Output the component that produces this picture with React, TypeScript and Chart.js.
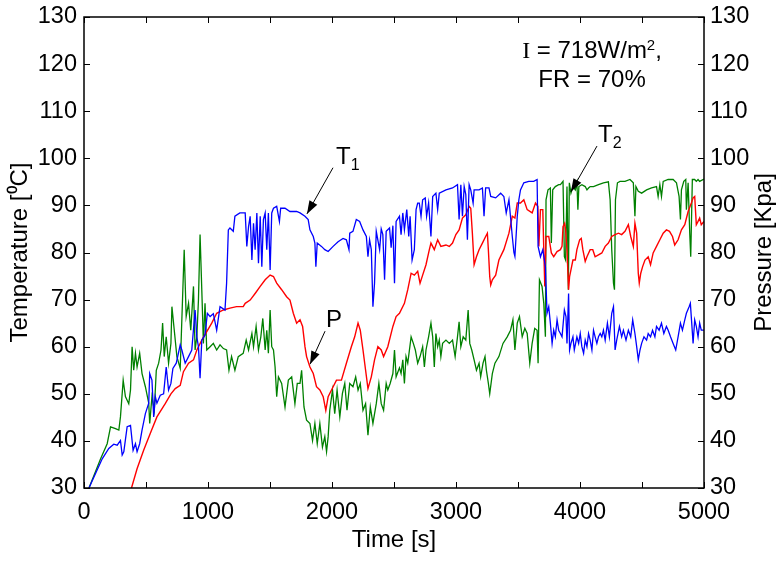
import React, { useEffect, useRef } from "react";
import { Chart, registerables } from "chart.js";

Chart.register(...registerables);

// ---------- data (time [s], value) ----------
const t1Series: [number, number][] = [
  [40,30.0],[147,36.2],[200,38.4],[240,39.3],[268,39.1],[294,40.1],[308,37.0],[321,37.7],[348,43.0],[375,43.3],
  [396,38.0],[415,39.4],[428,37.7],[449,39.4],[468,42.3],[495,45.8],[522,48.0],[530,54.3],[548,52.9],[562,45.1],
  [575,49.4],[588,48.0],[615,49.7],[642,50.0],[663,55.7],[682,50.8],[701,52.2],[717,55.4],[744,56.5],[776,60.4],
  [789,59.3],[816,56.5],[843,57.9],[869,59.3],[896,67.8],[910,62.1],[923,60.0],[936,53.3],[950,61.4],[976,62.5],
  [995,67.1],[1017,66.4],[1043,67.0],[1070,63.5],[1097,68.5],[1137,67.8],[1150,73.5],[1164,84.8],[1177,85.2],[1204,84.5],
  [1217,87.7],[1257,88.4],[1300,88.4],[1313,81.3],[1327,85.5],[1340,87.7],[1354,78.4],[1367,86.2],[1380,80.6],[1394,88.4],
  [1407,77.7],[1421,87.7],[1434,77.0],[1447,87.0],[1461,88.4],[1474,80.6],[1487,88.4],[1501,76.3],[1514,88.4],[1528,89.4],
  [1554,89.8],[1576,86.6],[1586,89.4],[1621,89.4],[1661,88.7],[1715,88.7],[1742,88.4],[1782,87.7],[1808,87.0],[1822,84.8],
  [1849,83.4],[1862,82.0],[1870,77.0],[1881,82.0],[1915,81.3],[1942,80.6],[1969,80.2],[2009,81.3],[2049,82.3],[2089,83.0],
  [2116,82.7],[2137,80.6],[2143,84.1],[2169,84.5],[2196,87.0],[2223,86.6],[2250,84.8],[2277,83.4],[2290,79.1],[2303,82.7],
  [2317,80.6],[2330,68.5],[2343,73.5],[2357,84.5],[2384,80.6],[2397,85.0],[2410,83.8],[2424,74.2],[2437,84.5],[2464,85.2],
  [2477,81.0],[2491,85.7],[2504,73.5],[2517,86.6],[2544,87.7],[2557,83.8],[2571,88.4],[2584,84.8],[2603,89.1],[2619,83.4],
  [2630,87.7],[2646,78.4],[2664,80.6],[2678,89.1],[2691,90.5],[2704,90.5],[2718,87.7],[2731,91.2],[2752,91.6],[2763,87.7],
  [2779,90.5],[2798,83.4],[2812,91.9],[2838,92.6],[2852,89.1],[2865,92.6],[2919,93.3],[2972,93.7],[3012,94.4],[3025,87.0],
  [3039,94.4],[3052,87.7],[3066,94.0],[3079,92.3],[3092,82.7],[3106,94.4],[3119,93.3],[3138,90.5],[3146,93.3],[3186,93.3],
  [3213,93.7],[3226,87.7],[3239,93.7],[3266,93.7],[3280,91.9],[3320,91.6],[3360,92.6],[3386,91.9],[3405,88.4],[3427,91.2],
  [3454,83.4],[3467,80.0],[3475,79.2],[3494,87.7],[3507,91.2],[3520,93.3],[3547,94.8],[3587,95.1],[3627,95.1],[3654,95.5],
  [3662,81.3],[3681,79.1],[3700,80.6],[3721,77.0],[3734,67.1],[3748,68.5],[3761,65.0],[3775,60.7],[3788,63.5],[3801,62.1],
  [3815,65.7],[3828,63.5],[3842,62.8],[3855,62.1],[3874,67.8],[3887,66.4],[3895,60.7],[3908,71.3],[3916,59.3],[3927,60.7],
  [3943,62.1],[3954,59.3],[3975,62.1],[3989,60.7],[4002,62.8],[4015,60.0],[4029,58.6],[4042,61.4],[4056,60.0],[4069,62.8],
  [4082,61.4],[4096,59.3],[4109,63.5],[4122,62.1],[4136,60.7],[4149,62.1],[4163,62.8],[4176,62.1],[4189,63.5],[4203,61.4],
  [4221,65.0],[4237,62.1],[4256,67.1],[4270,68.5],[4283,59.3],[4296,61.4],[4318,64.3],[4336,62.1],[4350,63.5],[4371,61.4],
  [4390,63.5],[4409,62.1],[4425,65.7],[4443,62.8],[4457,60.0],[4470,57.2],[4484,59.3],[4497,60.7],[4516,62.1],[4537,61.4],
  [4550,62.8],[4569,62.1],[4585,63.5],[4604,62.1],[4617,64.3],[4638,63.5],[4657,65.0],[4676,62.8],[4697,64.3],[4711,63.5],
  [4730,62.1],[4751,60.7],[4772,59.3],[4791,62.1],[4810,65.0],[4826,63.5],[4845,65.7],[4858,67.1],[4880,68.5],[4890,69.2],
  [4901,65.0],[4912,60.7],[4925,65.7],[4938,64.3],[4952,62.1],[4965,65.0],[4978,63.5],[5000,63.5],
];

const t2Series: [number, number][] = [
  [40,30.0],[134,36.2],[187,39.4],[214,43.0],[254,42.6],[281,42.3],[294,45.1],[316,52.9],[334,49.4],[361,47.9],
  [375,50.8],[388,60.0],[401,55.0],[415,58.6],[428,55.7],[449,58.6],[468,54.3],[495,51.5],[522,48.0],[530,43.7],
  [548,49.4],[567,46.5],[583,55.0],[602,56.5],[621,59.3],[634,65.0],[647,57.9],[663,62.1],[682,56.5],[701,60.7],
  [709,68.5],[728,63.5],[749,57.9],[776,55.4],[797,72.0],[808,80.6],[824,66.4],[843,69.2],[861,63.5],[883,72.8],
  [896,59.3],[910,62.1],[923,69.9],[936,83.8],[950,72.0],[963,60.7],[976,69.2],[990,59.3],[1017,60.0],[1043,60.7],
  [1070,59.3],[1097,60.4],[1124,59.6],[1150,59.3],[1169,55.0],[1190,57.9],[1217,55.0],[1244,57.9],[1284,58.6],[1308,61.4],
  [1327,59.3],[1354,62.8],[1367,60.0],[1388,64.3],[1407,59.3],[1426,62.1],[1442,66.0],[1461,59.3],[1474,63.5],[1487,58.6],
  [1501,67.8],[1514,60.0],[1528,59.3],[1541,55.7],[1554,49.4],[1568,53.6],[1594,52.2],[1621,47.2],[1648,52.9],[1675,53.6],
  [1701,47.9],[1720,52.2],[1742,52.2],[1755,55.0],[1774,47.2],[1795,44.4],[1822,43.7],[1843,40.1],[1862,43.7],[1881,39.4],
  [1902,43.7],[1923,38.7],[1942,40.9],[1956,37.7],[1969,40.9],[1982,46.5],[2004,50.8],[2022,45.8],[2041,50.8],[2063,45.1],
  [2084,50.1],[2103,52.2],[2121,46.5],[2143,52.2],[2169,51.5],[2191,53.6],[2210,50.8],[2228,52.2],[2250,46.5],[2271,47.9],
  [2290,41.2],[2309,47.2],[2330,43.7],[2357,47.9],[2378,52.2],[2397,47.9],[2416,46.5],[2437,52.2],[2450,50.8],[2469,52.2],
  [2491,54.3],[2504,59.3],[2517,53.6],[2544,55.5],[2557,54.3],[2571,57.2],[2584,52.2],[2597,57.9],[2611,56.5],[2638,62.1],
  [2656,60.7],[2672,59.3],[2691,56.5],[2710,57.9],[2731,60.0],[2745,55.7],[2758,59.3],[2779,62.1],[2798,65.0],[2812,62.1],
  [2825,55.7],[2838,62.8],[2852,60.0],[2865,61.4],[2878,57.9],[2892,60.7],[2919,61.4],[2946,60.7],[2972,61.4],[2993,57.9],
  [3012,62.1],[3025,65.3],[3039,60.0],[3058,62.1],[3079,61.4],[3098,67.8],[3111,60.7],[3127,59.3],[3146,57.2],[3165,55.0],
  [3186,56.5],[3199,53.6],[3218,56.5],[3234,57.9],[3245,55.0],[3261,52.2],[3272,50.0],[3293,54.3],[3314,56.5],[3346,57.9],
  [3379,60.7],[3413,62.1],[3440,63.5],[3459,65.7],[3475,59.3],[3494,65.0],[3512,66.4],[3534,62.1],[3555,63.9],[3574,62.8],
  [3595,56.5],[3614,60.7],[3635,63.9],[3654,63.5],[3662,56.5],[3673,74.2],[3694,72.8],[3708,69.2],[3721,62.1],[3726,91.2],
  [3742,93.3],[3761,93.7],[3769,82.0],[3780,93.3],[3801,94.0],[3828,94.4],[3842,94.4],[3863,95.1],[3874,79.1],[3884,78.4],
  [3895,94.0],[3906,72.1],[3914,94.8],[3927,92.6],[3943,94.0],[3962,93.3],[3975,94.8],[3983,89.1],[3991,94.0],[4015,94.4],
  [4042,94.0],[4056,93.3],[4069,93.7],[4082,94.0],[4109,94.0],[4149,94.4],[4189,94.8],[4229,95.0],[4243,91.2],[4256,80.6],
  [4270,73.5],[4278,72.1],[4286,91.2],[4302,94.8],[4323,95.1],[4363,95.1],[4403,95.5],[4430,94.8],[4443,87.7],[4451,94.0],
  [4470,93.0],[4497,92.6],[4537,93.3],[4577,93.7],[4617,94.0],[4630,91.9],[4644,94.4],[4657,91.9],[4671,95.1],[4711,95.5],
  [4751,95.5],[4778,94.8],[4799,91.9],[4810,87.0],[4818,93.3],[4837,95.1],[4853,95.5],[4858,89.1],[4872,94.8],[4885,84.1],
  [4893,79.1],[4906,95.5],[4925,95.5],[4938,95.1],[4952,95.5],[4965,95.1],[5000,95.6],
];

const pSeries: [number, number][] = [
  [383,30.0],[428,34.1],[481,38.0],[535,41.6],[588,45.1],[655,47.9],[701,50.0],[736,51.1],[776,51.8],[802,54.7],
  [843,56.5],[883,57.2],[910,59.3],[950,61.4],[990,63.2],[1030,65.0],[1070,67.1],[1124,67.8],[1177,68.2],[1230,68.5],
  [1284,68.5],[1300,69.2],[1340,69.9],[1380,71.3],[1421,72.8],[1461,74.2],[1501,75.2],[1528,74.9],[1554,73.5],[1594,72.1],
  [1634,70.6],[1661,69.9],[1688,67.1],[1715,65.0],[1742,65.7],[1763,64.3],[1782,60.0],[1795,57.9],[1822,55.7],[1849,54.3],
  [1875,51.5],[1902,50.8],[1929,49.4],[1950,46.5],[1969,49.4],[1996,50.8],[2036,52.9],[2076,52.9],[2116,56.5],[2156,60.0],
  [2183,62.1],[2210,65.0],[2228,63.5],[2250,59.3],[2271,55.0],[2290,51.1],[2317,53.6],[2343,57.2],[2370,60.0],[2397,59.3],
  [2416,57.9],[2450,60.0],[2491,64.3],[2517,66.4],[2544,67.1],[2584,69.2],[2611,72.1],[2638,75.6],[2664,75.2],[2691,76.0],
  [2710,73.5],[2731,75.2],[2758,77.4],[2785,80.6],[2798,82.0],[2825,80.6],[2852,82.7],[2878,81.3],[2919,81.6],[2946,81.3],
  [2972,82.0],[2999,83.8],[3025,84.8],[3052,87.3],[3079,88.0],[3106,89.8],[3119,89.4],[3132,84.1],[3146,77.4],[3165,79.1],
  [3186,80.6],[3213,82.0],[3239,83.4],[3253,84.1],[3261,80.6],[3272,74.9],[3280,73.1],[3293,74.2],[3320,75.2],[3346,78.4],
  [3386,80.6],[3427,84.1],[3454,87.7],[3475,87.3],[3494,90.5],[3520,90.5],[3547,91.2],[3574,89.1],[3614,88.4],[3641,90.5],
  [3660,89.8],[3668,81.3],[3681,89.1],[3700,89.1],[3708,80.6],[3716,72.8],[3726,83.4],[3748,83.4],[3769,79.9],[3788,79.1],
  [3815,80.2],[3842,80.6],[3855,81.3],[3863,85.5],[3876,86.2],[3884,84.8],[3895,80.6],[3908,72.1],[3916,74.9],[3927,76.3],
  [3943,78.4],[3962,78.4],[3975,80.6],[3997,82.7],[4010,83.0],[4023,80.6],[4042,78.1],[4056,79.1],[4082,80.6],[4103,80.6],
  [4122,79.1],[4149,79.5],[4176,79.9],[4203,81.3],[4229,82.0],[4256,83.4],[4283,83.8],[4310,84.1],[4336,83.8],[4363,84.5],
  [4390,85.9],[4409,83.4],[4430,81.3],[4443,86.2],[4457,84.1],[4470,75.6],[4478,73.5],[4490,75.6],[4505,77.0],[4524,78.4],
  [4550,79.1],[4569,77.4],[4590,79.9],[4617,81.3],[4644,82.7],[4671,84.1],[4697,84.8],[4722,84.5],[4746,83.4],[4764,81.6],
  [4791,82.7],[4818,84.8],[4845,85.9],[4872,88.7],[4898,90.5],[4912,91.6],[4925,91.9],[4938,85.9],[4952,86.6],[4965,87.3],
  [4978,85.9],[5000,86.6],
];

// ---------- axes ----------
const xTickValues = [0, 1000, 2000, 3000, 4000, 5000];
const xMinorTickValues = [0, 500, 1000, 1500, 2000, 2500, 3000, 3500, 4000, 4500, 5000];
const yTickValues = [30, 40, 50, 60, 70, 80, 90, 100, 110, 120, 130];

const xTitle = "Time [s]";
const yTitle = "Temperature [\u2070C]";
const y2Title = "Pressure [Kpa]";
const noteLine1 = ["I", " = 718W/m", "2", ","];
const noteLine2 = "FR = 70%";

const SANS = "'Liberation Sans', Arial, Helvetica, sans-serif";
const SERIF = "'Liberation Serif', 'Times New Roman', serif";

const toXY = (s: [number, number][]) => s.map(([x, y]) => ({ x, y }));

function drawArrow(ctx: CanvasRenderingContext2D, x1: number, y1: number, x2: number, y2: number) {
  ctx.beginPath();
  ctx.moveTo(x1, y1);
  ctx.lineTo(x2, y2);
  ctx.lineWidth = 1;
  ctx.stroke();
  const a = Math.atan2(y2 - y1, x2 - x1);
  const L = 13, W = 4.5;
  ctx.beginPath();
  ctx.moveTo(x2, y2);
  ctx.lineTo(x2 - L * Math.cos(a) + W * Math.sin(a), y2 - L * Math.sin(a) - W * Math.cos(a));
  ctx.lineTo(x2 - L * Math.cos(a) - W * Math.sin(a), y2 - L * Math.sin(a) + W * Math.cos(a));
  ctx.closePath();
  ctx.fill();
}

function drawSubLabel(ctx: CanvasRenderingContext2D, main: string, sub: string, x: number, y: number) {
  ctx.textAlign = "left";
  ctx.textBaseline = "alphabetic";
  ctx.font = `24px ${SANS}`;
  ctx.fillText(main, x, y);
  const w = ctx.measureText(main).width;
  if (sub) {
    ctx.font = `16px ${SANS}`;
    ctx.fillText(sub, x + w, y + 6);
  }
}

const framePlugin = {
  id: "frame",
  afterDraw(chart: any) {
    const { ctx, chartArea } = chart;
    const { left, right, top, bottom } = chartArea;
    const xs = chart.scales.x;
    const ys = chart.scales.y;
    const X = (v: number) => xs.getPixelForValue(v);
    const Y = (v: number) => ys.getPixelForValue(v);
    ctx.save();
    ctx.strokeStyle = "#000";
    ctx.fillStyle = "#000";
    ctx.lineWidth = 1.5;
    ctx.strokeRect(left, top, right - left, bottom - top);
    ctx.lineWidth = 1;
    ctx.beginPath();
    for (const v of xMinorTickValues) {
      const px = Math.round(X(v)) + 0.5;
      ctx.moveTo(px, bottom);
      ctx.lineTo(px, bottom - 6);
      ctx.moveTo(px, top);
      ctx.lineTo(px, top + 6);
    }
    for (const v of yTickValues) {
      const py = Math.round(Y(v)) + 0.5;
      ctx.moveTo(left, py);
      ctx.lineTo(left + 6, py);
      ctx.moveTo(right, py);
      ctx.lineTo(right - 6, py);
    }
    ctx.stroke();

    // right axis title (reads bottom to top)
    ctx.save();
    ctx.translate(right + 60, (top + bottom) / 2);
    ctx.rotate(-Math.PI / 2);
    ctx.font = `24px ${SANS}`;
    ctx.textAlign = "center";
    ctx.textBaseline = "middle";
    ctx.fillText(y2Title, 0, 0);
    ctx.restore();

    // note text
    const runs = [
      { t: noteLine1[0], f: `24px ${SERIF}`, dy: 0 },
      { t: noteLine1[1], f: `24px ${SANS}`, dy: 0 },
      { t: noteLine1[2], f: `15px ${SANS}`, dy: -8 },
      { t: noteLine1[3], f: `24px ${SANS}`, dy: 0 },
    ];
    let total = 0;
    for (const r of runs) { ctx.font = r.f; total += ctx.measureText(r.t).width; }
    const cx = X(4097);
    let x = cx - total / 2;
    ctx.textAlign = "left";
    ctx.textBaseline = "alphabetic";
    const b1 = Y(121.3);
    for (const r of runs) {
      ctx.font = r.f;
      ctx.fillText(r.t, x, b1 + r.dy);
      x += ctx.measureText(r.t).width;
    }
    ctx.font = `24px ${SANS}`;
    ctx.textAlign = "center";
    ctx.fillText(noteLine2, cx, Y(115.2));

    // series labels and arrows
    drawSubLabel(ctx, "T", "1", X(2032), Y(98.8));
    drawArrow(ctx, X(2008), Y(98.0), X(1798), Y(88.2));
    drawSubLabel(ctx, "P", "", X(1952), Y(64.2));
    drawArrow(ctx, X(1944), Y(63.3), X(1823), Y(56.3));
    drawSubLabel(ctx, "T", "2", X(4145), Y(103.5));
    drawArrow(ctx, X(4137), Y(102.6), X(3927), Y(92.9));
    ctx.restore();
  },
};

export default function App() {
  const ref = useRef<HTMLCanvasElement>(null);
  useEffect(() => {
    document.body.style.margin = "0";
    const canvas = ref.current;
    if (!canvas) return;
    const tickFont = { family: SANS, size: 23.5 };
    const titleFont = { family: SANS, size: 24 };
    const plain = (v: any) => String(v);
    const chart = new Chart(canvas, {
      type: "line",
      data: {
        datasets: [
          { label: "T1", data: toXY(t1Series), borderColor: "#0000ff", borderWidth: 1.3, pointRadius: 0, tension: 0, yAxisID: "y" },
          { label: "P", data: toXY(pSeries), borderColor: "#ff0000", borderWidth: 1.4, pointRadius: 0, tension: 0, yAxisID: "y2" },
          { label: "T2", data: toXY(t2Series), borderColor: "#008000", borderWidth: 1.3, pointRadius: 0, tension: 0, yAxisID: "y" },
        ],
      },
      options: {
        responsive: false,
        devicePixelRatio: 1,
        animation: false,
        parsing: false as any,
        layout: { padding: { top: 17, left: 0, right: 0, bottom: 0 } },
        plugins: { legend: { display: false }, tooltip: { enabled: false } },
        scales: {
          x: {
            type: "linear",
            min: 0,
            max: 5000,
            afterBuildTicks: (s: any) => { s.ticks = xTickValues.map((v) => ({ value: v })); },
            ticks: { font: tickFont, color: "#000", padding: 10, maxRotation: 0, autoSkip: false, callback: plain },
            grid: { display: false, drawTicks: false },
            border: { display: false },
            title: { display: true, text: xTitle, font: titleFont, color: "#000", padding: { top: 0, bottom: 8 } },
            afterFit: (s: any) => { s.height = 75; s.paddingLeft = 0; s.paddingRight = 0; },
          },
          y: {
            type: "linear",
            position: "left",
            min: 30,
            max: 130,
            afterBuildTicks: (s: any) => { s.ticks = yTickValues.map((v) => ({ value: v })); },
            ticks: { font: tickFont, color: "#000", padding: 7, autoSkip: false, callback: plain },
            grid: { display: false, drawTicks: false },
            border: { display: false },
            title: { display: true, text: yTitle, font: titleFont, color: "#000", padding: { top: 6, bottom: 0 } },
            afterFit: (s: any) => { s.width = 84; s.paddingTop = 0; s.paddingBottom = 0; },
          },
          y2: {
            type: "linear",
            position: "right",
            min: 30,
            max: 130,
            afterBuildTicks: (s: any) => { s.ticks = yTickValues.map((v) => ({ value: v })); },
            ticks: { font: tickFont, color: "#000", padding: 6, autoSkip: false, callback: plain },
            grid: { display: false, drawTicks: false },
            border: { display: false },
            afterFit: (s: any) => { s.width = 75; s.paddingTop = 0; s.paddingBottom = 0; },
          },
        },
      },
      plugins: [framePlugin],
    });
    return () => chart.destroy();
  }, []);
  return (
    <div style={{ width: 779, height: 563 }}>
      <canvas ref={ref} width={779} height={563} style={{ display: "block" }} />
    </div>
  );
}
